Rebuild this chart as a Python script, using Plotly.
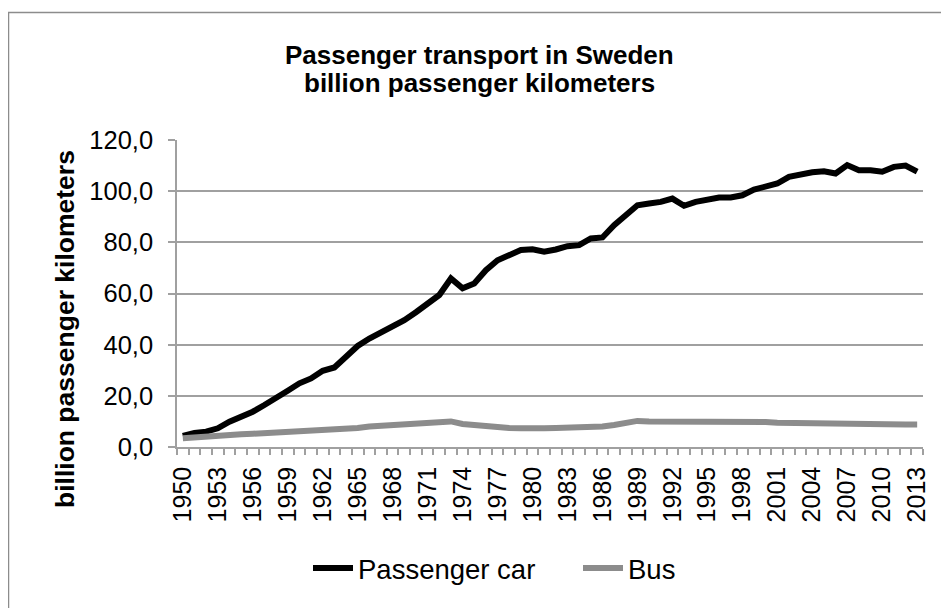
import plotly.graph_objects as go

# --------------------------------------------------
# Data (billion passenger kilometers)
# --------------------------------------------------
years = list(range(1950, 2014))

passenger_car = [
    4.3, 5.5, 6.0, 7.3, 9.9, 11.8, 13.8, 16.4, 19.0, 22.0,
    24.9, 26.8, 29.8, 31.1, 35.3, 39.5, 42.4, 44.7, 46.8, 49.6,
    52.7, 56.1, 59.4, 65.9, 62.0, 63.9, 69.1, 73.0, 75.3, 77.0,
    77.3, 76.3, 77.2, 78.5, 78.9, 81.5, 81.9, 86.7, 90.6, 94.5,
    95.2, 95.8, 97.1, 94.3, 95.8, 96.9, 97.5, 97.5, 98.4, 100.6,
    102.0, 103.0, 105.6, 106.6, 107.4, 107.8, 106.9, 110.2, 108.2, 108.2,
    107.6, 109.5, 110.0, 107.6,
]

bus = [
    3.4, 3.8, 4.2, 4.6, 4.9, 5.0, 5.2, 5.4, 5.8, 6.2,
    6.5, 6.7, 6.9, 7.0, 7.2, 7.4, 8.0, 8.3, 8.6, 8.8,
    9.0, 9.2, 9.5, 10.0, 9.0, 8.5, 7.9, 7.6, 7.4, 7.3,
    7.1, 7.3, 7.4, 7.5, 7.5, 7.7, 8.0, 8.6, 9.3, 10.2,
    10.0, 10.0, 9.9, 9.7, 9.7, 9.9, 10.0, 10.2, 10.0, 9.9,
    9.8, 9.5, 9.4, 9.3, 9.1, 8.9, 8.9, 9.0, 8.7, 8.6,
    8.5, 8.7, 8.8, 8.8,
]

x_tick_years = [
    1950, 1953, 1956, 1959, 1962, 1965, 1968, 1971, 1974, 1977, 1980,
    1983, 1986, 1989, 1992, 1995, 1998, 2001, 2004, 2007, 2010, 2013,
]
y_tick_vals = [0, 20, 40, 60, 80, 100, 120]
y_tick_labels = ["0,0", "20,0", "40,0", "60,0", "80,0", "100,0", "120,0"]

# --------------------------------------------------
# Layout geometry, in page pixels (the page body has an 8px margin)
# --------------------------------------------------
OFF = 8
W, H = 949 - OFF, 608 - OFF
PLOT_L, PLOT_R, PLOT_T, PLOT_B = 177, 923, 140, 447   # page coords
M_L, M_T = PLOT_L - OFF, PLOT_T - OFF
M_R, M_B = (949 - PLOT_R), (608 - PLOT_B)
PW = PLOT_R - PLOT_L
PH = PLOT_B - PLOT_T


def px_x(px):
    return (px - PLOT_L) / PW


def px_y(py):
    return (PLOT_B - py) / PH


FONT = "Liberation Sans, Arial, sans-serif"
GRID = "#a0a0a0"

fig = go.Figure()

fig.add_trace(go.Scatter(
    x=years, y=passenger_car,
    mode="lines", name="Passenger car",
    line=dict(color="#000000", width=6),
    legend="legend",
))
fig.add_trace(go.Scatter(
    x=years, y=bus,
    mode="lines", name="Bus",
    line=dict(color="#8c8c8c", width=6),
    legend="legend2",
))

legend_common = dict(
    orientation="h",
    xanchor="left",
    yanchor="middle",
    font=dict(size=27.5, family=FONT),
    bgcolor="rgba(0,0,0,0)",
    itemwidth=40,
)

fig.update_layout(
    width=W, height=H,
    margin=dict(l=M_L, r=M_R, t=M_T, b=M_B, autoexpand=False),
    paper_bgcolor="white",
    plot_bgcolor="white",
    font=dict(family=FONT, color="#000000"),
    showlegend=True,
    legend=dict(legend_common, x=px_x(308), y=px_y(568)),
    legend2=dict(legend_common, x=px_x(578), y=px_y(568)),
    xaxis=dict(
        range=[1949.5, 2013.5],
        tickmode="array",
        tickvals=x_tick_years,
        ticktext=[str(y) for y in x_tick_years],
        tickangle=-90,
        ticks="",
        tickfont=dict(size=25, family=FONT),
        showgrid=False,
        zeroline=False,
        showline=True,
        linecolor=GRID,
        linewidth=1.5,
        minor=dict(
            ticks="outside", dtick=1, tick0=0.5,
            ticklen=6, tickcolor=GRID, tickwidth=1.5, showgrid=False,
        ),
        ticklabelstandoff=8,
    ),
    yaxis=dict(
        range=[0, 120],
        tickmode="array",
        tickvals=y_tick_vals,
        ticktext=y_tick_labels,
        ticks="outside",
        ticklen=7,
        tickcolor=GRID,
        tickwidth=1.5,
        tickfont=dict(size=25.5, family=FONT),
        showgrid=True,
        gridcolor=GRID,
        gridwidth=1.5,
        zeroline=False,
        showline=True,
        linecolor=GRID,
        linewidth=1.5,
        ticklabelstandoff=10,
    ),
    annotations=[
        dict(
            text="<b>Passenger transport in Sweden</b>",
            x=px_x(479), y=px_y(55), xref="paper", yref="paper",
            xanchor="center", yanchor="middle", showarrow=False,
            font=dict(size=26, family=FONT),
        ),
        dict(
            text="<b>billion passenger kilometers</b>",
            x=px_x(479), y=px_y(83), xref="paper", yref="paper",
            xanchor="center", yanchor="middle", showarrow=False,
            font=dict(size=26, family=FONT),
        ),
        dict(
            text="<b>billion passenger kilometers</b>",
            x=px_x(65), y=px_y(329), xref="paper", yref="paper",
            xanchor="center", yanchor="middle", showarrow=False,
            textangle=-90,
            font=dict(size=26.5, family=FONT),
        ),
    ],
    shapes=[
        # outer chart-area border (runs past the right and bottom edges)
        dict(
            type="rect", xref="paper", yref="paper",
            x0=px_x(8.5), x1=px_x(980),
            y0=px_y(640), y1=px_y(12.5),
            line=dict(color="#8c8c8c", width=1.5),
            fillcolor="rgba(0,0,0,0)",
            layer="below",
        ),
    ],
)

fig.write_html("out.html")
